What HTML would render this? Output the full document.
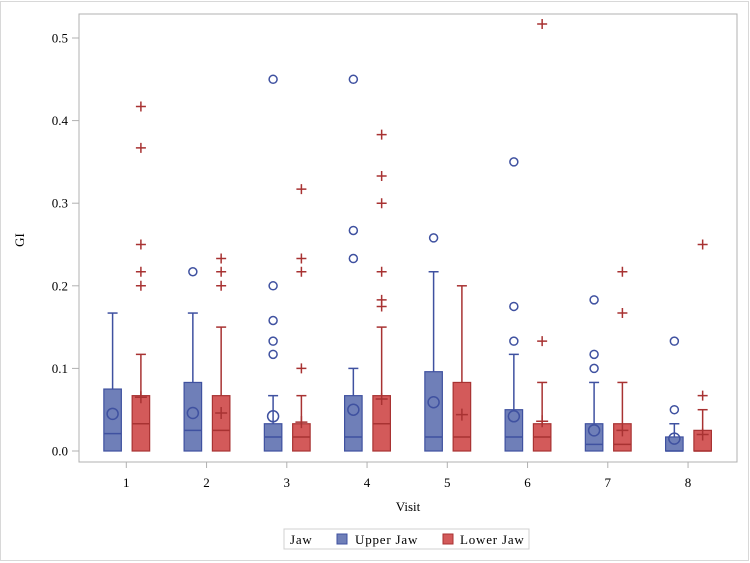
<!DOCTYPE html>
<html><head><meta charset="utf-8"><style>
body{margin:0;background:#fff}
svg{display:block;font-family:"Liberation Serif",serif}
</style></head><body>
<svg id="c" width="750" height="563">
<rect x="0.5" y="1.5" width="748" height="559" fill="#fff" stroke="#d8d8d8"/>
<rect x="79" y="14" width="658" height="448" fill="#fff" stroke="#b0b0b0"/>
<g id="marks"></g>
<text x="24" y="240" font-size="13" text-anchor="middle" transform="rotate(-90 24 240)">GI</text>
<text x="408" y="511" font-size="13" text-anchor="middle">Visit</text>
<g>
<rect x="284" y="529" width="245" height="20" fill="#fff" stroke="#d0d0d0"/>
<text x="290" y="544" font-size="13" letter-spacing="0.8">Jaw</text>
<rect x="337" y="534" width="10" height="10" fill="#6f7fb8" stroke="#3f51a0"/>
<text x="355" y="544" font-size="13" letter-spacing="0.8">Upper Jaw</text>
<rect x="443" y="534" width="10" height="10" fill="#d35a5a" stroke="#a83232"/>
<text x="460" y="544" font-size="13" letter-spacing="0.8">Lower Jaw</text>
</g>
</svg>
<script>
const visits=["1","2","3","4","5","6","7","8"];
const yTicks=[0,0.1,0.2,0.3,0.4,0.5];
const upperQ1=[0,0,0,0,0,0,0,0];
const upperMed=[0.021,0.025,0.017,0.017,0.017,0.017,0.008,0];
const upperQ3=[0.075,0.083,0.033,0.067,0.096,0.05,0.033,0.017];
const upperHi=[0.167,0.167,0.067,0.1,0.217,0.117,0.083,0.033];
const upperMean=[0.045,0.046,0.042,0.05,0.059,0.042,0.025,0.015];
const upperOut=[[],[0.217],[0.117,0.133,0.158,0.2,0.45],[0.233,0.267,0.45],[0.258],[0.133,0.175,0.35],[0.1,0.117,0.183],[0.05,0.133]];
const lowerQ1=[0,0,0,0,0,0,0,0];
const lowerMed=[0.033,0.025,0.017,0.033,0.017,0.017,0.008,0];
const lowerQ3=[0.067,0.067,0.033,0.067,0.083,0.033,0.033,0.025];
const lowerHi=[0.117,0.15,0.067,0.15,0.2,0.083,0.083,0.05];
const lowerMean=[0.065,0.046,0.035,0.063,0.044,0.036,0.025,0.02];
const lowerOut=[[0.2,0.217,0.25,0.367,0.417],[0.2,0.217,0.233],[0.1,0.217,0.233,0.317],[0.175,0.183,0.217,0.3,0.333,0.383],[],[0.133,0.517],[0.167,0.217],[0.067,0.25]];

const NS="http://www.w3.org/2000/svg";
const svg=document.getElementById('c'), g=document.getElementById('marks');
const y=v=>451-v*826;
const x=i=>126.3+i*80.25;
function mk(t,a,p){const e=document.createElementNS(NS,t);for(const k in a)e.setAttribute(k,a[k]);(p||g).appendChild(e);return e;}
yTicks.forEach(t=>{
  mk('line',{x1:72,x2:79,y1:y(t),y2:y(t),stroke:'#b0b0b0'},svg);
  const tx=mk('text',{x:68,y:y(t)+4.5,'font-size':13,'text-anchor':'end'},svg);
  tx.textContent=t.toFixed(1);
  
  
});
visits.forEach((v,i)=>{
  mk('line',{x1:x(i),x2:x(i),y1:462,y2:468,stroke:'#b0b0b0'},svg);
  const tx=mk('text',{x:x(i),y:487,'font-size':13,'text-anchor':'middle'},svg);
  tx.textContent=v;
  
  
});
function series(i,off,q1,med,q3,hi,mean,out,fill,stroke,plus,name){
  const cx=x(i)+off,w=17.5;
  const grp=mk('g',{});
  
  
  mk('line',{x1:cx,x2:cx,y1:y(q3[i]),y2:y(hi[i]),stroke:stroke,'stroke-width':1.5},grp);
  mk('line',{x1:cx-5,x2:cx+5,y1:y(hi[i]),y2:y(hi[i]),stroke:stroke,'stroke-width':1.5},grp);
  mk('rect',{x:cx-w/2,y:y(q3[i]),width:w,height:Math.max(y(q1[i])-y(q3[i]),0.1),fill:fill,stroke:stroke,'stroke-width':1.2},grp);
  mk('line',{x1:cx-w/2,x2:cx+w/2,y1:y(med[i]),y2:y(med[i]),stroke:stroke,'stroke-width':1.5},grp);
  const mm=y(mean[i]);
  if(plus){mk('path',{d:`M${cx-6} ${mm}H${cx+6}M${cx} ${mm-6}V${mm+6}`,stroke:stroke,'stroke-width':1.5,fill:'none'},grp);}
  else mk('circle',{cx:cx,cy:mm,r:5.5,fill:'none',stroke:stroke,'stroke-width':1.5},grp);
  out[i].forEach(o=>{const oy=y(o);
    if(plus)mk('path',{d:`M${cx-5} ${oy}H${cx+5}M${cx} ${oy-5}V${oy+5}`,stroke:stroke,'stroke-width':1.5,fill:'none'},grp);
    else mk('circle',{cx:cx,cy:oy,r:4,fill:'none',stroke:stroke,'stroke-width':1.5},grp);
  });
}
visits.forEach((v,i)=>{
  series(i,-13.7,upperQ1,upperMed,upperQ3,upperHi,upperMean,upperOut,'#6f7fb8','#3f51a0',false,'upper-jaw');
  series(i,14.6,lowerQ1,lowerMed,lowerQ3,lowerHi,lowerMean,lowerOut,'#d35a5a','#a83232',true,'lower-jaw');
});
</script>
</body></html>
